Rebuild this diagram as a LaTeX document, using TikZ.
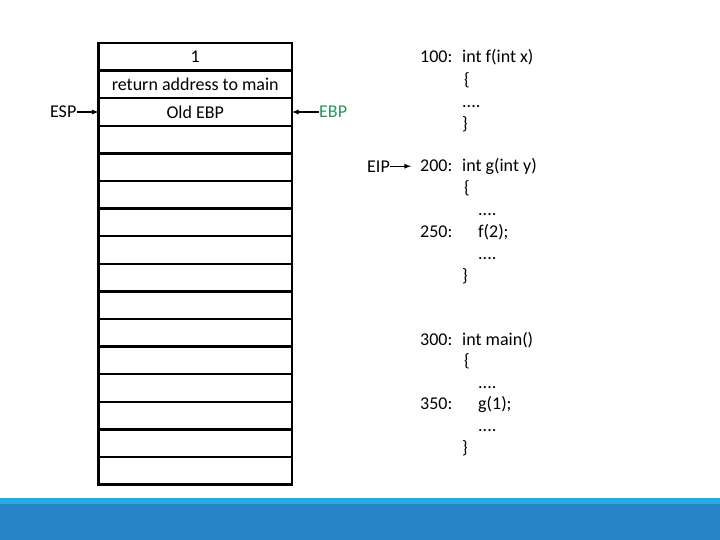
\documentclass[tikz,border=0pt]{standalone}
\usepackage{fontspec}
\setmainfont{Carlito}
\usetikzlibrary{positioning}
\definecolor{ebpgreen}{RGB}{38,150,95}
\definecolor{bandlight}{RGB}{41,171,226}
\definecolor{banddark}{RGB}{38,131,198}
\tikzset{
  cell/.style={draw, line width=2.3pt, minimum width=193.5pt, minimum height=27.6pt,
    inner sep=0pt, outer sep=0pt, font=\fontsize{18}{21}\selectfont},
  code/.style={inner sep=0pt, font=\fontsize{18}{21}\selectfont},
  ptr/.style={line width=1.3pt, ->, >=latex},
}
\begin{document}
\begin{tikzpicture}[x=1pt, y=-1pt, node distance=0pt]
        \useasboundingbox (0,0) rectangle (720,540);
        \fill [bandlight] (0,497.5) rectangle (720,504);
        \fill [banddark]  (0,504) rectangle (720,540);

        % the stack
        \node (s1)  [cell] at (195.25,56.8) {1};
        \node (s2)  [cell, below=of s1]  {return address to main};
        \node (s3)  [cell, below=of s2]  {Old EBP};
        \node (s4)  [cell, below=of s3]  {};
        \node (s5)  [cell, below=of s4]  {};
        \node (s6)  [cell, below=of s5]  {};
        \node (s7)  [cell, below=of s6]  {};
        \node (s8)  [cell, below=of s7]  {};
        \node (s9)  [cell, below=of s8]  {};
        \node (s10) [cell, below=of s9]  {};
        \node (s11) [cell, below=of s10] {};
        \node (s12) [cell, below=of s11] {};
        \node (s13) [cell, below=of s12] {};
        \node (s14) [cell, below=of s13] {};
        \node (s15) [cell, below=of s14] {};
        \node (s16) [cell, below=of s15] {};

        \node (esp) [code, left=22pt of s3] {ESP};
        \node (ebp) [code, right=27pt of s3, text=ebpgreen] {EBP};
        \draw [ptr] (esp) -- (s3);
        \draw [ptr] (ebp) -- (s3);

        % f
        \node (a100) [code, anchor=base west] at (420,63) {100:};
        \node (f1) [code, right=42pt of a100.base west, anchor=base west] {int f(int x)};
        \node (f2) [code, below=22.2pt of f1.base west, anchor=base west, xshift=2pt] {\{};
        \node (f3) [code, below=22.2pt of f2.base west, anchor=base west, xshift=-2pt] {....};
        \node (f4) [code, below=22.2pt of f3.base west, anchor=base west] {\}};

        % g
        \node (a200) [code, anchor=base west] at (420,172) {200:};
        \node (g1) [code, right=42pt of a200.base west, anchor=base west] {int g(int y)};
        \node (g2) [code, below=21.8pt of g1.base west, anchor=base west, xshift=2pt] {\{};
        \node (g3) [code, below=21.8pt of g2.base west, anchor=base west, xshift=14pt] {....};
        \node (a250) [code, below=65.4pt of a200.base west, anchor=base west] {250:};
        \node (g4) [code, right=58pt of a250.base west, anchor=base west] {f(2);};
        \node (g5) [code, below=21.8pt of g4.base west, anchor=base west] {....};
        \node (g6) [code, below=21.8pt of g5.base west, anchor=base west, xshift=-16pt] {\}};

        \node (eip) [code, left=30pt of a200] {EIP};
        \draw [ptr, shorten >=9pt] (eip) -- (a200);

        % main
        \node (a300) [code, anchor=base west] at (420,345) {300:};
        \node (m1) [code, right=42pt of a300.base west, anchor=base west] {int main()};
        \node (m2) [code, below=21.6pt of m1.base west, anchor=base west, xshift=2pt] {\{};
        \node (m3) [code, below=21.6pt of m2.base west, anchor=base west, xshift=14pt] {....};
        \node (a350) [code, below=64.8pt of a300.base west, anchor=base west] {350:};
        \node (m4) [code, right=58pt of a350.base west, anchor=base west] {g(1);};
        \node (m5) [code, below=21.6pt of m4.base west, anchor=base west] {....};
        \node (m6) [code, below=21.6pt of m5.base west, anchor=base west, xshift=-16pt] {\}};
\end{tikzpicture}
\end{document}
